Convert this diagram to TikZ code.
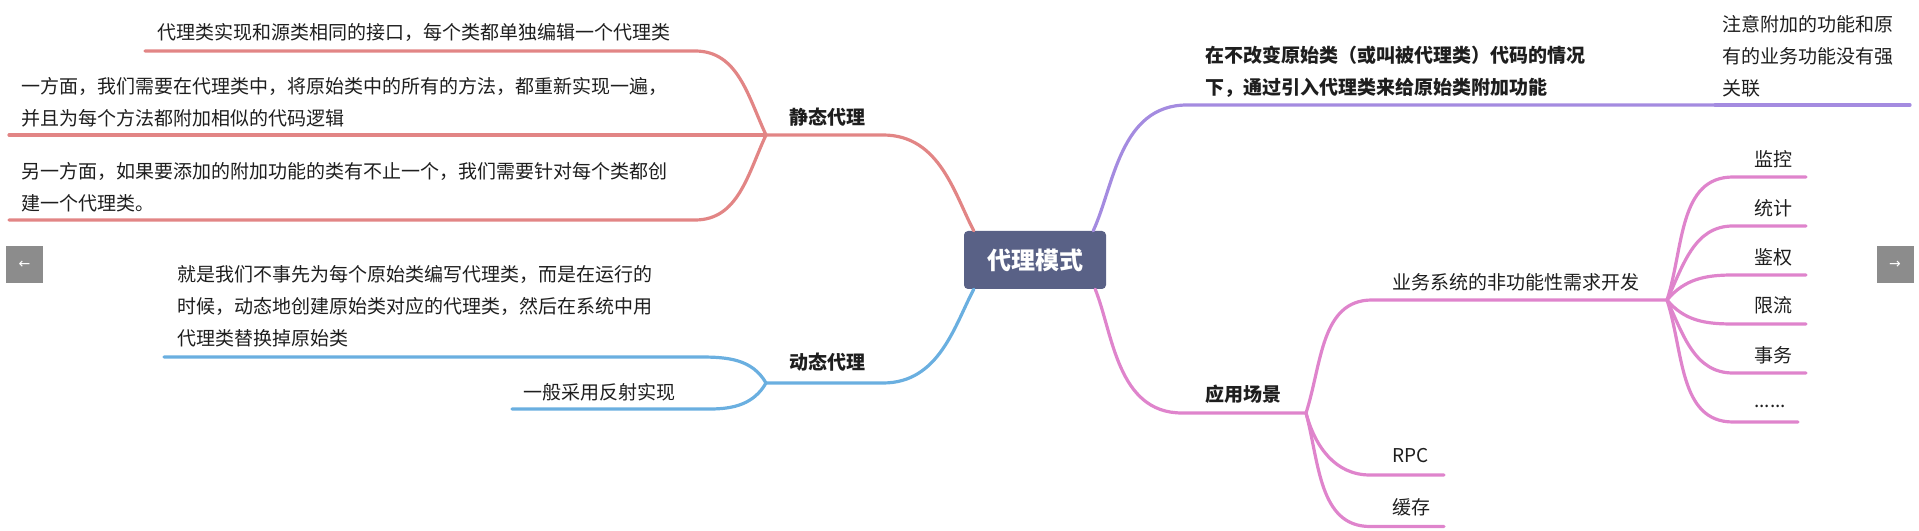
\documentclass[tikz,border=0pt]{standalone}
\usepackage{fontspec}
\setmainfont{Noto Sans CJK SC}
\newfontfamily\djv{DejaVu Sans}
\usetikzlibrary{calc}
\definecolor{cred}{HTML}{E28585}
\definecolor{cblue}{HTML}{6AAFE0}
\definecolor{cpurple}{HTML}{A48BE0}
\definecolor{cpink}{HTML}{DF84CC}
\definecolor{ccenter}{HTML}{596186}
\definecolor{ctext}{HTML}{1E1E1E}
\definecolor{cbtn}{HTML}{8C8C8C}
\tikzset{
  base/.style={line width=3.2pt, line cap=round},
  redln/.style={base, draw=cred},
  blueln/.style={base, draw=cblue},
  purpleln/.style={base, draw=cpurple},
  pinkln/.style={base, draw=cpink},
  txt/.style={anchor=west, inner sep=0pt, text=ctext, font=\fontsize{19}{32}\selectfont, align=left},
  lvone/.style={txt, font=\fontsize{19}{32}\selectfont\bfseries},
  rootbox/.style={fill=ccenter, rounded corners=4pt, minimum width=142pt, minimum height=58pt, inner sep=0pt, text=white, font=\fontsize{24}{24}\selectfont\bfseries},
  btn/.style={fill=cbtn, minimum width=37pt, minimum height=37pt, inner sep=0pt, text=white, font=\djv\fontsize{14}{14}\selectfont}
}
\begin{document}
\begin{tikzpicture}[x=1pt, y=1pt]
\useasboundingbox (0,0) rectangle (1919,530);
% root
\node[rootbox] (root) at (1035,270) {代理模式};
\coordinate (cR) at ($(root.north west)+(10,0)$);
\coordinate (cP) at ($(root.north east)+(-13,0)$);
\coordinate (cB) at ($(root.south west)+(10,0)$);
\coordinate (cK) at ($(root.south east)+(-11,0)$);

% buttons
\node[btn] (prev) at (24.5,265.5) {←};
\node[btn] (next) at (1895,265.5) {→};

% ---------- red: 静态代理
\coordinate (J1) at (766,395);
\coordinate (s1e) at (883,395);
\node[lvone] (static) at (789,413) {静态代理};
\draw[redln] (cR) to[out=118, in=0, out looseness=0.8, in looseness=1.1] (s1e) -- (J1);

\coordinate (r1s) at (695,479);
\coordinate (r1e) at (145,479);
\node[txt] (r1) at (157,498) {代理类实现和源类相同的接口，每个类都单独编辑一个代理类};
\draw[redln] (J1) to[out=115, in=0] (r1s) -- (r1e);

\coordinate (r2e) at (9,395);
\node[txt] (r2) at (21,428) {一方面，我们需要在代理类中，将原始类中的所有的方法，都重新实现一遍，\\并且为每个方法都附加相似的代码逻辑};
\draw[redln] (J1) -- (r2e);

\coordinate (r3s) at (695,310);
\coordinate (r3e) at (9,310);
\node[txt] (r3) at (21,343) {另一方面，如果要添加的附加功能的类有不止一个，我们需要针对每个类都创\\建一个代理类。};
\draw[redln] (J1) to[out=245, in=0] (r3s) -- (r3e);

% ---------- blue: 动态代理
\coordinate (J2) at (766,147);
\coordinate (s2e) at (883,147);
\node[lvone] (dynamic) at (789,168) {动态代理};
\draw[blueln] (cB) to[out=242, in=0, out looseness=0.8, in looseness=1.1] (s2e) -- (J2);

\coordinate (b1s) at (700,173);
\coordinate (b1e) at (164,173);
\node[txt] (b1) at (177,223.5) {就是我们不事先为每个原始类编写代理类，而是在运行的\\时候，动态地创建原始类对应的代理类，然后在系统中用\\代理类替换掉原始类};
\draw[blueln] (J2) to[out=120, in=0] (b1s) -- (b1e);

\coordinate (b2s) at (710,121);
\coordinate (b2e) at (512,121);
\node[txt] (b2) at (523,138) {一般采用反射实现};
\draw[blueln] (J2) to[out=240, in=0] (b2s) -- (b2e);

% ---------- purple
\coordinate (p1s) at (1187,425);
\coordinate (p1e) at (1715,425);
\node[lvone] (p1) at (1205,458.5) {在不改变原始类（或叫被代理类）代码的情况\\下，通过引入代理类来给原始类附加功能};
\draw[purpleln] (cP) to[out=65, in=180, out looseness=0.8, in looseness=1.1] (p1s) -- (p1e);

\coordinate (p2e) at (1910,425);
\node[txt] (p2) at (1722,473.5) {注意附加的功能和原\\有的业务功能没有强\\关联};
\draw[purpleln] (p1e) -- (p2e);

% ---------- pink: 应用场景
\coordinate (k1s) at (1182,117);
\coordinate (J4) at (1306,117);
\node[lvone] (scene) at (1205,136) {应用场景};
\draw[pinkln] (cK) to[out=292, in=180, out looseness=0.8, in looseness=1.1] (k1s) -- (J4);

\coordinate (k2s) at (1372,230);
\coordinate (J5) at (1667,230);
\node[txt] (biz) at (1392,248) {业务系统的非功能性需求开发};
\draw[pinkln] (J4) to[out=72, in=180] (k2s) -- (J5);

\coordinate (k3s) at (1370,55);
\coordinate (k3e) at (1444,55);
\node[txt] (rpc) at (1392,74) {RPC};
\draw[pinkln] (J4) to[out=285, in=180] (k3s) -- (k3e);

\coordinate (k4s) at (1370,3.5);
\coordinate (k4e) at (1444,3.5);
\node[txt] (cache) at (1392,23) {缓存};
\draw[pinkln] (J4) to[out=285, in=180] (k4s) -- (k4e);

% leaves
\coordinate (l1s) at (1733,353); \coordinate (l1e) at (1806,353);
\node[txt] (l1) at (1754,371) {监控};
\draw[pinkln] (J5) to[out=72, in=180] (l1s) -- (l1e);

\coordinate (l2s) at (1733,304); \coordinate (l2e) at (1806,304);
\node[txt] (l2) at (1754,322) {统计};
\draw[pinkln] (J5) to[out=65, in=180] (l2s) -- (l2e);

\coordinate (l3s) at (1733,255); \coordinate (l3e) at (1806,255);
\node[txt] (l3) at (1754,273) {鉴权};
\draw[pinkln] (J5) to[out=50, in=180] (l3s) -- (l3e);

\coordinate (l4s) at (1733,206); \coordinate (l4e) at (1806,206);
\node[txt] (l4) at (1754,225) {限流};
\draw[pinkln] (J5) to[out=310, in=180] (l4s) -- (l4e);

\coordinate (l5s) at (1733,157); \coordinate (l5e) at (1806,157);
\node[txt] (l5) at (1754,175) {事务};
\draw[pinkln] (J5) to[out=295, in=180] (l5s) -- (l5e);

\coordinate (l6s) at (1733,108); \coordinate (l6e) at (1798,108);
\node[txt] (l6) at (1754,124) {......};
\draw[pinkln] (J5) to[out=288, in=180] (l6s) -- (l6e);
\end{tikzpicture}
\end{document}
